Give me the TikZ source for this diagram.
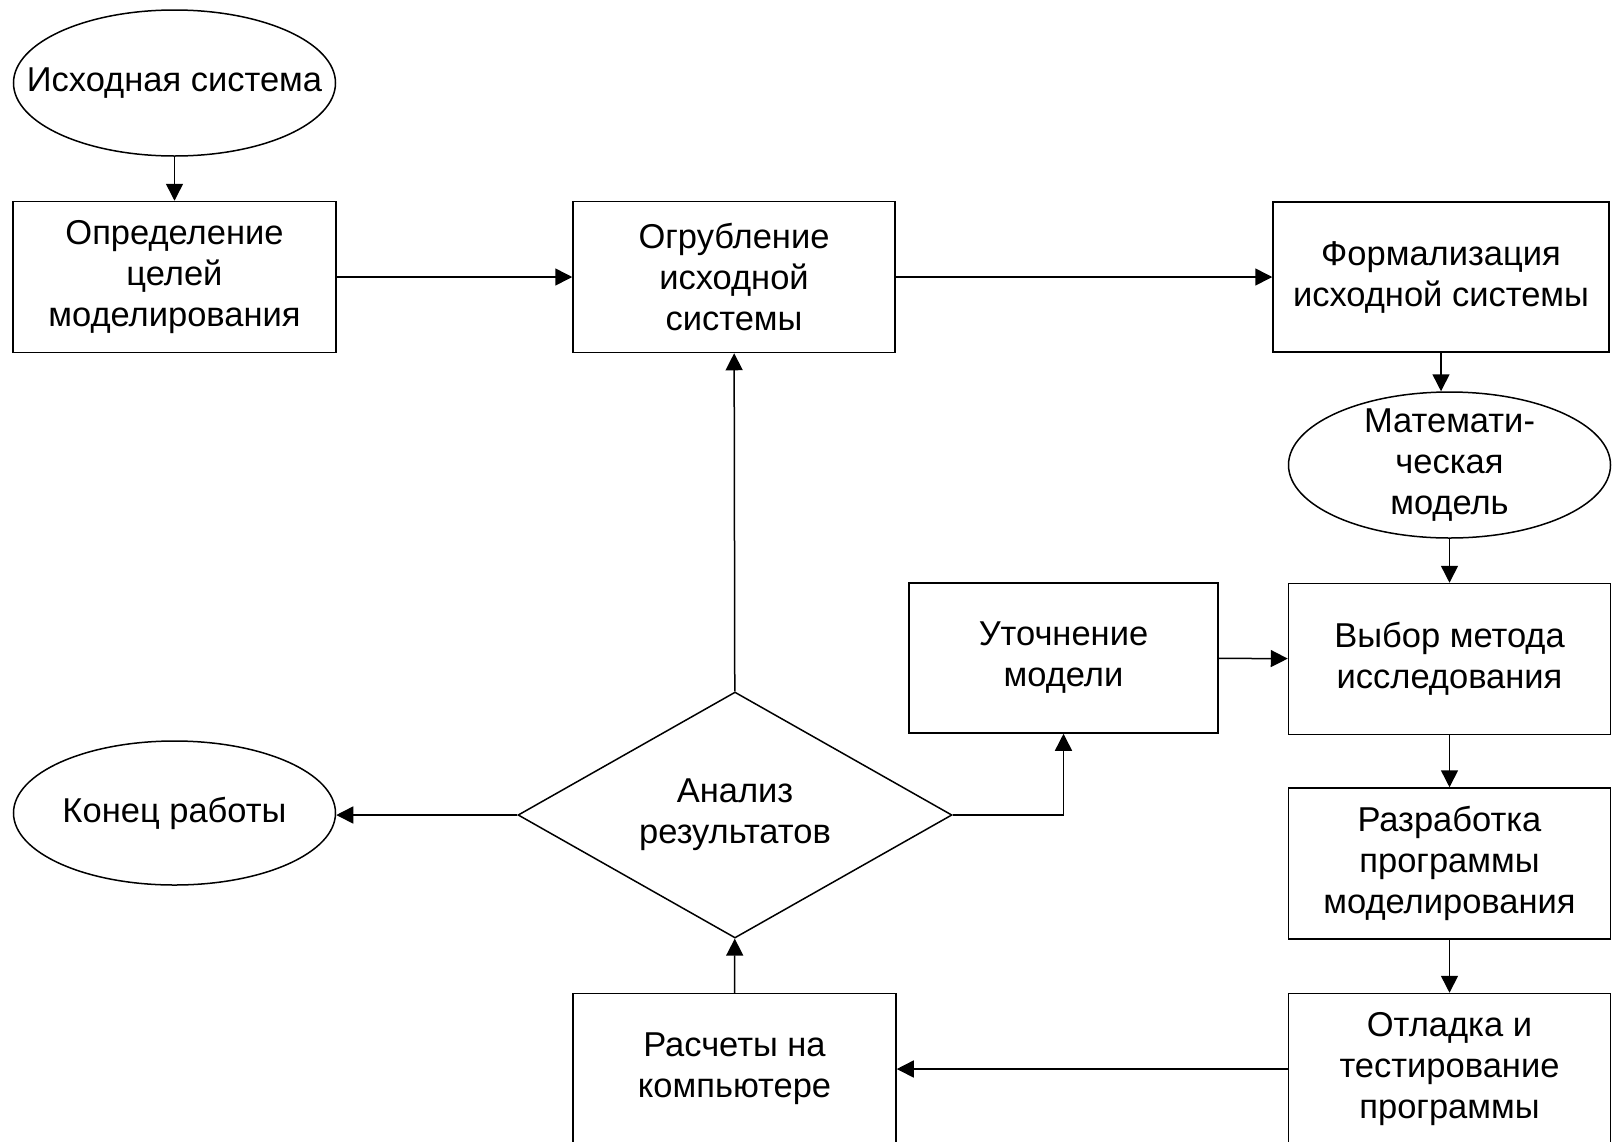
\documentclass[tikz,border=0pt]{standalone}
\usepackage{fontspec}
\setmainfont{Liberation Sans}
\usetikzlibrary{shapes.geometric,arrows.meta}

\tikzset{
  box/.style={draw,rectangle,align=center,inner sep=0pt,minimum width=322pt,minimum height=151pt},
  oval/.style={draw,ellipse,align=center,inner xsep=-50pt,inner ysep=-20pt,minimum width=322pt,minimum height=146pt},
  cond/.style={draw,diamond,align=center,inner sep=0pt,aspect=1.76,minimum width=434pt,minimum height=246pt},
  arr/.style={-{Triangle[length=17pt,width=17pt]}}
}

\begin{document}
\begin{tikzpicture}[x=1pt,y=-1pt,line width=1.5pt,
  every node/.style={font=\fontsize{34.5pt}{41pt}\selectfont}]
  \useasboundingbox (0,0) rectangle (1614,1141);
  \clip (0,0) rectangle (1614,1141);

  % left and middle column
  \node[oval] (isx) at (174.5,83) {Исходная система};
  \node[box,minimum width=323pt] (opr) at (174.5,277) {Определение\\целей\\моделирования};
  \node[box] (ogr) at (734,277) {Огрубление\\исходной\\системы};
  \node[cond] (analiz) at (735,815) {Анализ\\результатов};
  \node[oval,minimum height=144pt] (konec) at (174.5,813) {Конец работы};
  \node[box,minimum width=323pt] (rasch) at (734.5,1069) {Расчеты на\\компьютере};
  \node[box,minimum width=309pt,minimum height=150pt] (utoch) at (1063.5,658) {Уточнение\\модели};

  % right column
  \node[box,minimum width=336pt,minimum height=150pt] (form) at (1441,277) {Формализация\\исходной системы};
  \node[oval] (mat) at (1449.5,465) {Математи-\\ческая\\модель};
  \node[box] (vyb) at (1449.5,659) {Выбор метода\\исследования};
  \node[box] (razr) at (1449.5,863.5) {Разработка\\программы\\моделирования};
  \node[box] (otl) at (1449.5,1069) {Отладка и\\тестирование\\программы};

  \draw[arr] (isx) -- (opr);
  \draw[arr] (opr) -- (ogr);
  \draw[arr] (ogr) -- (form);
  \draw[arr] (form) -- (form |- mat.north);
  \draw[arr] (mat) -- (vyb);
  \draw[arr] (vyb) -- (razr);
  \draw[arr] (razr) -- (otl);
  \draw[arr] (otl) -- (rasch);
  \draw[arr] (rasch) -- (analiz);
  \draw[arr] (analiz) -- (ogr);
  \draw[arr] (analiz.east) -| (utoch.south);
  \draw[arr] (analiz.west) -- (analiz.west -| konec.east);
  \draw[arr] (utoch) -- (vyb);
\end{tikzpicture}
\end{document}
